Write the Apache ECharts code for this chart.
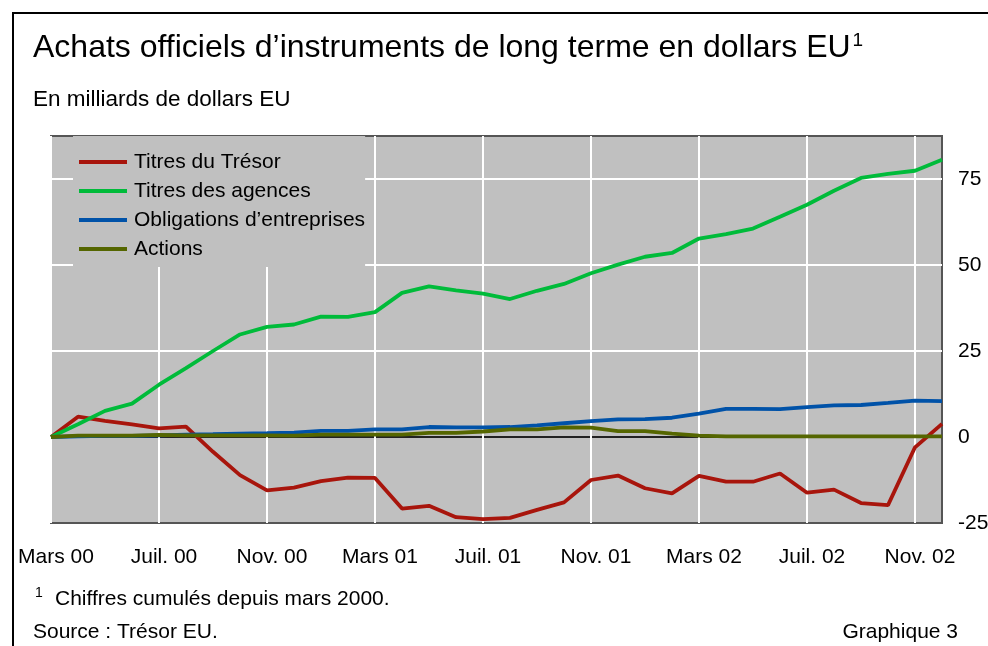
<!DOCTYPE html>
<html>
<head>
<meta charset="utf-8">
<script src="https://cdn.jsdelivr.net/npm/echarts@6/dist/echarts.min.js"></script>
<style>
  html, body { margin: 0; padding: 0; background: #fff; }
  #chart { width: 988px; height: 646px; }
</style>
</head>
<body>
<div id="chart"></div>
<script>
// mois, de mars 2000 à décembre 2002
var months = ['Mars 00', 'Avr. 00', 'Mai 00', 'Juin 00', 'Juil. 00', 'Août 00', 'Sept. 00', 'Oct. 00',
  'Nov. 00', 'Déc. 00', 'Janv. 01', 'Févr. 01', 'Mars 01', 'Avr. 01', 'Mai 01', 'Juin 01',
  'Juil. 01', 'Août 01', 'Sept. 01', 'Oct. 01', 'Nov. 01', 'Déc. 01', 'Janv. 02', 'Févr. 02',
  'Mars 02', 'Avr. 02', 'Mai 02', 'Juin 02', 'Juil. 02', 'Août 02', 'Sept. 02', 'Oct. 02',
  'Nov. 02', 'Déc. 02'];

var tresor = [0, 5.9, 4.7, 3.7, 2.5, 3.0, -4.3, -11.1, -15.5, -14.7, -12.8, -11.8, -11.9, -20.8, -20.0, -23.3,
  -23.9, -23.5, -21.2, -19.0, -12.5, -11.2, -14.9, -16.4, -11.3, -13.0, -13.0, -10.6, -16.2, -15.3, -19.2, -19.8,
  -3.0, 3.8];
var agences = [0, 3.7, 7.6, 9.7, 15.2, 20.0, 25.0, 29.8, 32.0, 32.7, 35.0, 34.9, 36.3, 41.9, 43.8, 42.6,
  41.7, 40.1, 42.5, 44.5, 47.6, 50.1, 52.4, 53.5, 57.7, 59.0, 60.6, 64.0, 67.5, 71.6, 75.3, 76.5,
  77.4, 80.6];
var entreprises = [0, 0.2, 0.3, 0.3, 0.5, 0.7, 0.8, 1.0, 1.1, 1.3, 1.8, 1.8, 2.2, 2.2, 2.9, 2.8,
  2.8, 2.9, 3.4, 4.0, 4.6, 5.1, 5.2, 5.6, 6.8, 8.2, 8.2, 8.1, 8.7, 9.2, 9.3, 9.9,
  10.6, 10.4];
var actions = [0, 0.4, 0.4, 0.4, 0.6, 0.5, 0.5, 0.5, 0.5, 0.4, 0.7, 0.7, 0.7, 0.7, 1.2, 1.2,
  1.6, 2.2, 2.2, 2.8, 2.7, 1.7, 1.7, 1.0, 0.4, 0.2, 0.2, 0.2, 0.2, 0.2, 0.2, 0.2,
  0.2, 0.2];

var FONT = "'Liberation Sans', Arial, sans-serif";

var myChart = echarts.init(document.getElementById('chart'));

function serie(name, data, color) {
  return {
    name: name,
    type: 'line',
    data: data,
    symbol: 'none',
    lineStyle: { color: color, width: 3.8 },
    itemStyle: { color: color }
  };
}

myChart.setOption({
  backgroundColor: '#fff',
  animation: false,
  textStyle: { fontFamily: FONT },
  grid: {
    left: 51, right: 46, top: 136, bottom: 123,
    containLabel: false,
    outerBoundsMode: 'none',
    show: true,
    backgroundColor: '#c0c0c0',
    borderColor: '#555',
    borderWidth: 2
  },
  legend: {
    orient: 'vertical',
    left: 73,
    top: 136,
    padding: [15, 0, 7, 6],
    backgroundColor: '#c0c0c0',
    icon: 'rect',
    itemWidth: 48,
    itemHeight: 4,
    itemGap: 7,
    textStyle: { fontSize: 21, lineHeight: 22, color: '#000', fontFamily: FONT, padding: [0, 0, 0, 2] },
    data: ['Titres du Trésor', 'Titres des agences', 'Obligations d’entreprises', 'Actions']
  },
  xAxis: {
    type: 'category',
    data: months,
    boundaryGap: false,
    axisLine: { show: false },
    axisTick: { show: false },
    axisLabel: { interval: 3, fontSize: 21, color: '#000', margin: 24, padding: [0, 0, 0, 10], fontFamily: FONT },
    splitLine: { show: true, interval: 3, lineStyle: { color: '#fff', width: 2 } }
  },
  yAxis: {
    type: 'value',
    position: 'right',
    min: -25,
    max: 87.5,
    interval: 25,
    axisLine: { show: false },
    axisTick: { show: false },
    axisLabel: { fontSize: 21, color: '#000', margin: 16, showMaxLabel: false, fontFamily: FONT },
    splitLine: {
      show: true,
      lineStyle: { color: ['rgba(0,0,0,0)', '#222', '#fff', '#fff', '#fff', 'rgba(0,0,0,0)'], width: 2 }
    }
  },
  graphic: [
    {
      type: 'rect', silent: true,
      shape: { x: 13, y: 13, width: 1100, height: 1100 },
      style: { fill: 'none', stroke: '#000', lineWidth: 2 }
    },
    {
      type: 'text', left: 33, top: 31,
      style: {
        text: '{t|Achats officiels d’instruments de long terme en dollars EU}{s|1}',
        fill: '#000',
        rich: {
          t: { fontSize: 32, lineHeight: 34, fontFamily: FONT },
          s: { fontSize: 19, lineHeight: 19, verticalAlign: 'top', padding: [0, 0, 0, 2], fontFamily: FONT }
        }
      }
    },
    {
      type: 'text', x: 33, y: 100,
      style: { text: 'En milliards de dollars EU', fontSize: 22.5, fontFamily: FONT, fill: '#000', verticalAlign: 'middle' }
    },
    {
      type: 'text', x: 35, y: 593,
      style: { text: '1', fontSize: 14, fontFamily: FONT, fill: '#000', verticalAlign: 'middle' }
    },
    {
      type: 'text', x: 55, y: 599,
      style: { text: 'Chiffres cumulés depuis mars 2000.', fontSize: 21, fontFamily: FONT, fill: '#000', verticalAlign: 'middle' }
    },
    {
      type: 'text', x: 33, y: 632,
      style: { text: 'Source : Trésor EU.', fontSize: 21, fontFamily: FONT, fill: '#000', verticalAlign: 'middle' }
    },
    {
      type: 'text', x: 958, y: 632,
      style: { text: 'Graphique 3', fontSize: 21, fontFamily: FONT, fill: '#000', align: 'right', verticalAlign: 'middle' }
    }
  ],
  series: [
    serie('Titres du Trésor', tresor, '#a8150c'),
    serie('Titres des agences', agences, '#00bb3a'),
    serie('Obligations d’entreprises', entreprises, '#0052a8'),
    serie('Actions', actions, '#556600')
  ]
});

window.addEventListener('resize', function () {
  myChart.resize();
});
</script>
</body>
</html>
